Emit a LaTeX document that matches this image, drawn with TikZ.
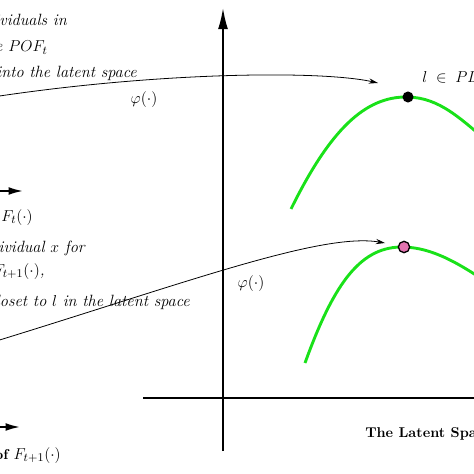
\documentclass[tikz,border=0pt]{standalone}
\usepackage{amsmath}
\usepackage{xcolor}
\usepackage{tikz}
\usetikzlibrary{shapes,arrows,arrows.meta,positioning,calc}

\definecolor{frontgreen}{RGB}{25,225,25}
\definecolor{dotpink}{RGB}{225,115,175}

\newcommand{\notesize}{\fontsize{12.4}{15}\selectfont}
\newcommand{\titlesize}{\fontsize{10.8}{13}\selectfont}

\tikzset{
  axis/.style={line width=1.3pt},
  stub/.style={line width=1.4pt,-{Latex[length=11pt,width=6pt]}},
  mapto/.style={line width=0.6pt,-{Stealth[length=7pt,width=4pt]}},
  front/.style={frontgreen,line width=2.2pt},
  note/.style={font=\notesize\itshape,inner sep=0pt},
  title/.style={inner sep=0pt,font=\titlesize\bfseries},
}

\begin{document}
\begin{tikzpicture}[x=0.0267cm,y=-0.0267cm]
            \useasboundingbox (0,0) rectangle (474,474);
            \clip (0,0) rectangle (474,474);
            % draw the axes of the latent space
            \draw[axis,-{Latex[length=16pt,width=7.5pt]}] (223,451) -- (223,8);
            \draw[axis] (143,398) -- (500,398);
            % draw the fronts
            \draw[front] (291,209) .. controls (330,130) and (365,96) .. (408,97) .. controls (440,98) and (460,118) .. (495,148);
            \draw[front] (305,363) .. controls (335,280) and (362,246) .. (404,247) .. controls (432,248) and (458,262) .. (495,288);
            % draw the points
            \node[circle,fill=black,inner sep=0pt,minimum size=8.4pt] (l) at (408,97) {};
            \node[circle,fill=dotpink,draw=black,line width=1pt,inner sep=0pt,minimum size=8.6pt] (x) at (404,247) {};
            \node[anchor=base west,inner sep=0pt,font=\notesize] (lpl) at (422,83) {$l \;\in\; PL$};
            % draw the mappings
            \coordinate (src1) at (-20,99);
            \coordinate (tip1) at (378,83);
            \draw[mapto] (src1) .. controls (150,72) and (320,70) .. (tip1);
            \node[font=\notesize] (phi1) at (144,100) {$\varphi(\cdot)$};
            \coordinate (src2) at (-20,346);
            \coordinate (tip2) at (385,243);
            \draw[mapto] (src2) .. controls (180,285) and (320,232) .. (tip2);
            \node[font=\notesize] (phi2) at (251,284) {$\varphi(\cdot)$};
            % draw the objective space axes
            \coordinate (o1) at (-30,191);
            \coordinate (e1) at (23,191);
            \draw[stub] (o1) -- (e1);
            \coordinate (o2) at (-30,427);
            \coordinate (e2) at (20,427);
            \draw[stub] (o2) -- (e2);
            % draw the texts
            \node[note,anchor=base east] (t1) at (67,26) {Map the individuals in};
            \node[note,anchor=base east] (t2) at (48,52) {the $POF_t$};
            \node[note,anchor=base east] (t3) at (137,78) {into the latent space};
            \node[note,anchor=base east] (t4) at (85,252) {Find the individual $x$ for};
            \node[note,anchor=base east] (t5) at (45,275) {$F_{t+1}(\cdot)$,};
            \node[note,anchor=base east] (t6) at (190,306) {whose image is closet to $l$ in the latent space};
            \node[title,anchor=base east] (obj1) at (33,221) {The Objective Space of \notesize$F_t(\cdot)$};
            \node[title,anchor=base east] (obj2) at (61,459) {The Objective Space of \notesize$F_{t+1}(\cdot)$};
            \node[title,anchor=base west] (lat) at (365,437) {The Latent Space};
        \end{tikzpicture}
\end{document}
